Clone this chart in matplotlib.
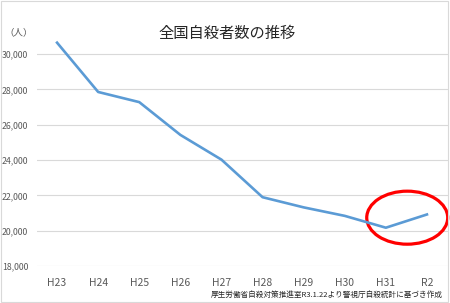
import matplotlib
matplotlib.use("Agg")
import matplotlib.pyplot as plt
from matplotlib.patches import Ellipse, Rectangle
from matplotlib.ticker import FuncFormatter

plt.rcParams['font.family'] = ['Noto Sans CJK JP', 'DejaVu Sans']

years = ["H23", "H24", "H25", "H26", "H27", "H28", "H29", "H30", "H31", "R2"]
suicides = [30651, 27858, 27283, 25427, 24025, 21897, 21321, 20840, 20169, 20919]
yticks = [18000, 20000, 22000, 24000, 26000, 28000, 30000]

fig = plt.figure(figsize=(4.5, 3.03), dpi=100)
fig.patch.set_facecolor("white")
fig.patches.append(Rectangle((0.002, 0.004), 0.994, 0.992, transform=fig.transFigure,
                             fill=False, edgecolor="#d9d9d9", linewidth=0.8))

ax = fig.add_axes([36.5 / 450, 1 - 266 / 303, 411 / 450, (266 - 36.5) / 303])
x = list(range(len(years)))
ax.plot(x, suicides, color="#5B9BD5", linewidth=1.9, solid_joinstyle="round")
ax.set_xlim(-0.5, len(years) - 0.5)
ax.set_ylim(18000, 31000)
ax.set_yticks(yticks)
ax.yaxis.set_major_formatter(FuncFormatter(lambda v, p: f"{int(v):,}"))
ax.set_xticks(x)
ax.set_xticklabels(years)
ax.grid(axis="y", color="#d9d9d9", linewidth=0.8)
ax.set_axisbelow(True)
for s in ax.spines.values():
    s.set_visible(False)
ax.tick_params(axis="y", length=0, labelsize=6.3, labelcolor="#595959", pad=6)
ax.tick_params(axis="x", length=0, labelsize=7.5, labelcolor="#595959", pad=9)

ell = Ellipse((8.52, 20737), 1.97, 3003, fill=False, edgecolor="#ff0000",
              linewidth=2.3, clip_on=False)
ax.add_patch(ell)

fig.text(227 / 450, 1 - 33 / 303, "全国自殺者数の推移", ha="center", va="center",
         fontsize=11, color="#262626")
fig.text(19 / 450, 1 - 33 / 303, "（人）", ha="center", va="center",
         fontsize=6.8, color="#595959")
fig.text(443 / 450, 1 - 295 / 303, "厚生労働省自殺対策推進室R3.1.22より警視庁自殺統計に基づき作成",
         ha="right", va="center", fontsize=5.5, color="#262626")

fig.savefig("out.png", dpi=100, facecolor="white")
